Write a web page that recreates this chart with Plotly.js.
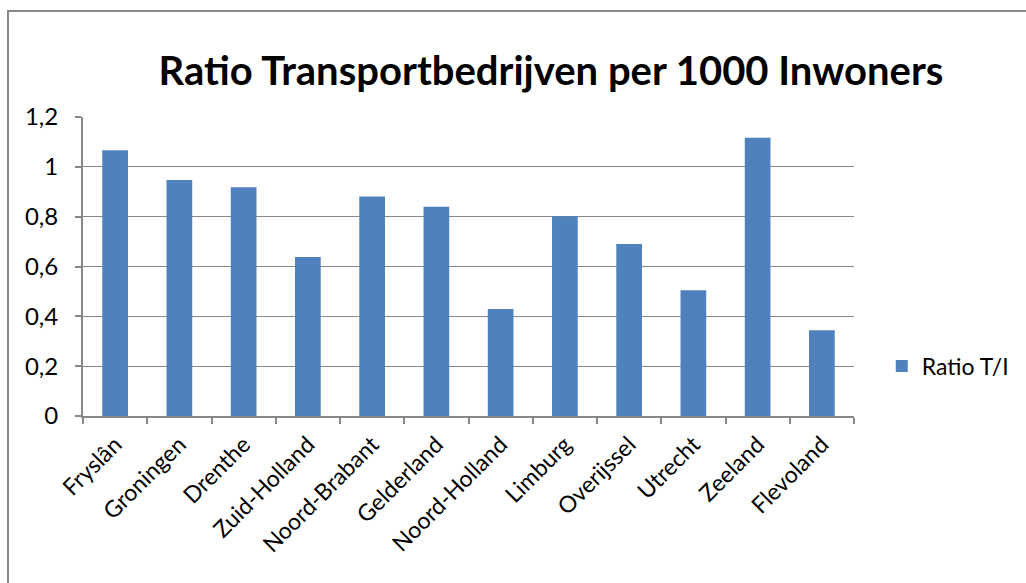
<!DOCTYPE html>
<html>
<head>
<meta charset="utf-8">
<script src="https://cdn.plot.ly/plotly-3.0.1.min.js"></script>
<style>
  html, body { margin: 0; padding: 0; background: #fff; }
  #chart { position: absolute; left: 0; top: 0; width: 1026px; height: 583px; }
  #frame { position: absolute; left: 7px; top: 10px; width: 1030px; height: 600px;
           border-top: 2px solid #888; border-left: 2px solid #888; pointer-events: none; }
</style>
</head>
<body>
<div id="chart"></div>
<div id="frame"></div>
<script>
const categories = ["Fryslân", "Groningen", "Drenthe", "Zuid-Holland", "Noord-Brabant", "Gelderland",
                    "Noord-Holland", "Limburg", "Overijssel", "Utrecht", "Zeeland", "Flevoland"];
const ratioValues = [1.067, 0.947, 0.918, 0.638, 0.881, 0.840, 0.429, 0.802, 0.690, 0.505, 1.117, 0.344];
const seriesName = "Ratio T/I";
const chartTitle = "Ratio Transportbedrijven per 1000 Inwoners";
const yTickVals = [0, 0.2, 0.4, 0.6, 0.8, 1, 1.2];

const font = "Lato, 'Open Sans', sans-serif";

const trace = {
  type: "bar",
  x: categories,
  y: ratioValues,
  name: seriesName,
  marker: { color: "#4F81BD" },
  showlegend: true
};

const layout = {
  width: 1026, height: 583,
  separators: ",.",
  margin: { l: 83, r: 170, t: 117, b: 167 },
  paper_bgcolor: "#fff", plot_bgcolor: "#fff",
  font: { family: font, color: "#000", size: 22 },
  title: { text: "<b>" + chartTitle + "</b>", font: { family: font, size: 40, color: "#000" },
           x: 0.537, xanchor: "center", y: 0.878, yanchor: "middle" },
  bargap: 0.6,
  xaxis: {
    type: "category",
    tickangle: -45,
    tickson: "boundaries",
    ticks: "outside", ticklen: 6, tickcolor: "#888", tickwidth: 2,
    showline: true, linecolor: "#888", linewidth: 2,
    showgrid: false,
    tickfont: { family: font, size: 23, color: "#000" },
    ticklabelstandoff: 4
  },
  yaxis: {
    range: [0, 1.2],
    tickvals: yTickVals,
    ticksuffix: "\u00a0",
    ticks: "outside", ticklen: 6, tickcolor: "#888", tickwidth: 2,
    showline: true, linecolor: "#888", linewidth: 2,
    showgrid: true, gridcolor: "#888", gridwidth: 1,
    zeroline: false,
    tickfont: { family: font, size: 24, color: "#000" },
    ticklabelstandoff: 12
  },
  legend: { x: 1.036, y: 0.167, xanchor: "left", yanchor: "middle",
            font: { family: font, size: 23, color: "#000" }, bgcolor: "rgba(0,0,0,0)" }
};

Plotly.newPlot("chart", [trace], layout, { staticPlot: true, displayModeBar: false });
</script>
</body>
</html>
